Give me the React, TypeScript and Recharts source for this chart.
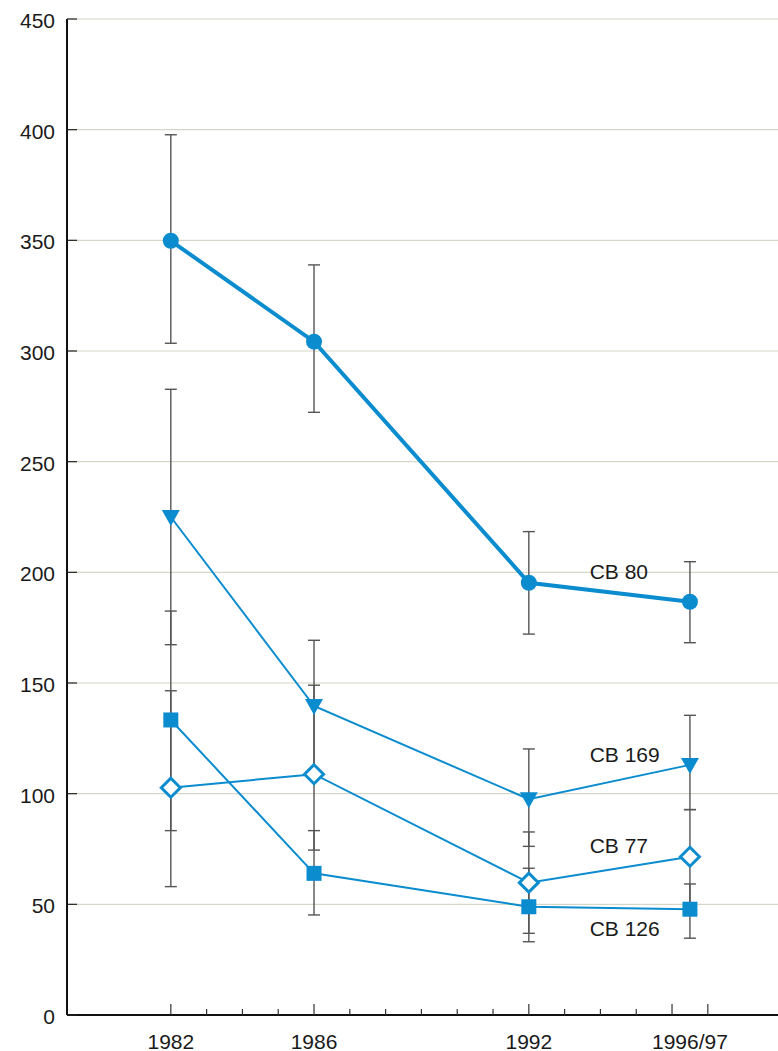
import React from 'react';
import { LineChart, Line, XAxis, YAxis, CartesianGrid, ErrorBar, ReferenceDot } from 'recharts';

// Sampling years (1996/97 campaign sits between the two year ticks)
const years = [1982, 1986, 1992, 1996.5];
const yearLabels = ['1982', '1986', '1992', '1996/97'];

// Year tick marks along the x axis; majors are drawn longer
const tickYears = [1982, 1983, 1984, 1985, 1986, 1987, 1988, 1989, 1990, 1991, 1992, 1993, 1994, 1995, 1996, 1997];
const majorYears = [1982, 1986, 1992, 1996, 1997];

const yTicks = [0, 50, 100, 150, 200, 250, 300, 350, 400, 450];

// Mean concentrations and error-bar bounds per congener
const cb80 = [349.8, 304.2, 195.3, 186.7];
const cb80Low = [303.5, 272.3, 172.1, 168.2];
const cb80High = [397.7, 338.9, 218.4, 204.8];

const cb169 = [225.0, 139.6, 97.5, 113.0];
const cb169Low = [167.3, 109.9, 76.2, 92.8];
const cb169High = [282.7, 169.3, 120.2, 135.4];

const cb77 = [102.7, 108.8, 59.8, 71.5];
const cb77Low = [58.0, 74.5, 36.9, 50.6];
const cb77High = [146.5, 149.0, 82.7, 92.8];

const cb126 = [133.3, 64.0, 48.9, 47.8];
const cb126Low = [83.3, 45.2, 33.1, 34.7];
const cb126High = [182.5, 83.3, 66.3, 59.2];

// Series captions placed to the right of the 1992 points
const captionNames = ['CB 80', 'CB 169', 'CB 77', 'CB 126'];
const captionX = [1993.7, 1993.7, 1993.7, 1993.7];
const captionY = [200.2, 117.5, 76.8, 38.9];

const BLUE = '#0a8ccf';
const FONT = '"Liberation Sans", Arial, Helvetica, sans-serif';

const errPair = (v: number[], lo: number[], hi: number[], i: number) => [v[i] - lo[i], hi[i] - v[i]];

const data = years.map((year, i) => ({
  year,
  cb80: cb80[i],
  cb80Err: errPair(cb80, cb80Low, cb80High, i),
  cb169: cb169[i],
  cb169Err: errPair(cb169, cb169Low, cb169High, i),
  cb77: cb77[i],
  cb77Err: errPair(cb77, cb77Low, cb77High, i),
  cb126: cb126[i],
  cb126Err: errPair(cb126, cb126Low, cb126High, i),
}));

const YTick = (props: any) => {
  const { x, y, payload } = props;
  return (
    <g>
      <line x1={x + 12} x2={x + 22} y1={y} y2={y} stroke="#222" strokeWidth={1.2} />
      <text x={x} y={y + 1.5} textAnchor="end" dominantBaseline="central" fontFamily={FONT} fontSize={21} fill="#1a1a1a">
        {payload.value}
      </text>
    </g>
  );
};

const XTick = (props: any) => {
  const { x, y, payload } = props;
  const v = payload.value;
  const labelIdx = years.indexOf(v);
  const isTick = tickYears.indexOf(v) >= 0;
  const len = majorYears.indexOf(v) >= 0 ? 11 : 6;
  return (
    <g>
      {isTick && <line x1={x} x2={x} y1={y} y2={y - len} stroke="#333" strokeWidth={1.2} />}
      {labelIdx >= 0 && (
        <text x={x} y={y + 26} textAnchor="middle" dominantBaseline="central" fontFamily={FONT} fontSize={21} fill="#1a1a1a">
          {yearLabels[labelIdx]}
        </text>
      )}
    </g>
  );
};

const CircleDot = (props: any) => {
  const { cx, cy } = props;
  if (cx == null || cy == null) return null;
  return <circle cx={cx} cy={cy} r={8} fill={BLUE} />;
};

const TriangleDot = (props: any) => {
  const { cx, cy } = props;
  if (cx == null || cy == null) return null;
  return <polygon points={`${cx - 9},${cy - 7} ${cx + 9},${cy - 7} ${cx},${cy + 9}`} fill={BLUE} />;
};

const DiamondDot = (props: any) => {
  const { cx, cy } = props;
  if (cx == null || cy == null) return null;
  const r = 9.5;
  return (
    <polygon
      points={`${cx},${cy - r} ${cx + r},${cy} ${cx},${cy + r} ${cx - r},${cy}`}
      fill="#fff"
      stroke={BLUE}
      strokeWidth={3}
    />
  );
};

const SquareDot = (props: any) => {
  const { cx, cy } = props;
  if (cx == null || cy == null) return null;
  return <rect x={cx - 7.5} y={cy - 7.5} width={15} height={15} fill={BLUE} />;
};

const Caption = (text: string) => (props: any) => (
  <text x={props.cx} y={props.cy} dominantBaseline="central" fontFamily={FONT} fontSize={21} fill="#1a1a1a">
    {text}
  </text>
);

const series = [
  { key: 'cb80', err: 'cb80Err', width: 4, dot: CircleDot },
  { key: 'cb169', err: 'cb169Err', width: 2, dot: TriangleDot },
  { key: 'cb77', err: 'cb77Err', width: 2, dot: DiamondDot },
  { key: 'cb126', err: 'cb126Err', width: 2, dot: SquareDot },
];

export default function App() {
  return (
    <div style={{ position: 'absolute', left: 0, top: 0, width: 778, height: 1051, background: '#fff' }}>
      <LineChart width={778} height={1051} data={data} margin={{ top: 19, right: 0, left: 0, bottom: 0 }}>
        <CartesianGrid horizontal vertical={false} stroke="#d6d6c6" strokeWidth={1.2} />
        <XAxis
          dataKey="year"
          type="number"
          domain={[1979.1, 1998.96]}
          ticks={[...tickYears, 1996.5]}
          interval={0}
          height={36}
          tickSize={0}
          tickMargin={0}
          tickLine={false}
          axisLine={{ stroke: '#111', strokeWidth: 2 }}
          tick={<XTick />}
          allowDataOverflow
        />
        <YAxis
          type="number"
          domain={[0, 450]}
          ticks={yTicks}
          interval={0}
          width={67}
          tickSize={0}
          tickMargin={12}
          tickLine={false}
          axisLine={{ stroke: '#111', strokeWidth: 2 }}
          tick={<YTick />}
        />
        {/* error bars first so every curve and marker sits above them */}
        {series.map((s) => (
          <Line
            key={`${s.key}-err`}
            dataKey={s.key}
            stroke="none"
            dot={false}
            activeDot={false}
            legendType="none"
            isAnimationActive={false}
          >
            <ErrorBar dataKey={s.err} width={6} stroke="#555" strokeWidth={1.4} direction="y" />
          </Line>
        ))}
        {series.map((s) => (
          <Line
            key={s.key}
            dataKey={s.key}
            type="linear"
            stroke={BLUE}
            strokeWidth={s.width}
            dot={<s.dot />}
            activeDot={false}
            isAnimationActive={false}
          />
        ))}
        {captionNames.map((name, i) => (
          <ReferenceDot
            key={name}
            x={captionX[i]}
            y={captionY[i]}
            r={0}
            ifOverflow="visible"
            shape={Caption(name)}
          />
        ))}
      </LineChart>
    </div>
  );
}
